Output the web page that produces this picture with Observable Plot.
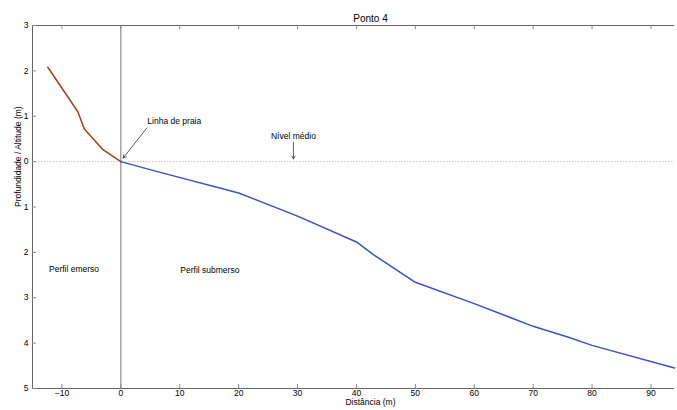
<!DOCTYPE html>
<html>
<head>
<meta charset="utf-8">
<script src="https://cdn.jsdelivr.net/npm/d3@7"></script>
<script src="https://cdn.jsdelivr.net/npm/@observablehq/plot@0.6"></script>
<style>
  html, body { margin: 0; padding: 0; background: #fff; }
  svg { display: block; }
</style>
</head>
<body>
<div id="chart"></div>
<script>
// Perfil emerso (beach above mean level)
const emersoX = [-12.4, -7.3, -6.2, -3.1, 0];
const emersoY = [2.08, 1.1, 0.72, 0.27, 0];
// Perfil submerso
const submersoX = [0, 6.2, 20, 30, 40, 43, 50, 60, 70, 76, 80, 94];
const submersoY = [0, -0.22, -0.69, -1.2, -1.77, -2.06, -2.66, -3.13, -3.63, -3.87, -4.05, -4.55];

const xTicks = [-10, 0, 10, 20, 30, 40, 50, 60, 70, 80, 90];
const yTicks = [3, 2, 1, 0, -1, -2, -3, -4, -5];
const xDomain = [-15, 94];
const yDomain = [-5, 3];

const titleText = "Ponto 4";
const xLabel = "Distância (m)";
const yLabel = "Profundidade / Altitude (m)";

const labels = [
  {x: 4.5, y: 0.88, text: "Linha de praia", anchor: "start"},
  {x: 29.3, y: 0.55, text: "Nível médio", anchor: "middle"},
  {x: -12.2, y: -2.38, text: "Perfil emerso", anchor: "start"},
  {x: 10.1, y: -2.4, text: "Perfil submerso", anchor: "start"}
];
const arrows = [
  {x1: 4.4, y1: 0.74, x2: 0.4, y2: 0.08},
  {x1: 29.3, y1: 0.43, x2: 29.3, y2: 0.06}
];

const emerso = emersoX.map((x, i) => ({x, y: emersoY[i]}));
const submerso = submersoX.map((x, i) => ({x, y: submersoY[i]}));

const W = 677, H = 410;
const mL = 32, mR = 3, mT = 25, mB = 22;
const innerW = W - mL - mR, innerH = H - mT - mB;
const tk = 4;
const font = "Liberation Sans, Arial, sans-serif";

const plot = Plot.plot({
  width: W, height: H,
  marginLeft: mL, marginRight: mR, marginTop: mT, marginBottom: mB,
  style: {fontFamily: font, fontSize: "9px", color: "#000", background: "#fff"},
  x: {domain: xDomain},
  y: {domain: yDomain},
  marks: [
    // zero level dotted line
    Plot.ruleY([0], {stroke: "#b8b8b8", strokeWidth: 0.8, strokeDasharray: "1.5,1.5"}),
    // shoreline vertical
    Plot.ruleX([0], {stroke: "#777", strokeWidth: 1}),
    // frame lines (bottom, top, left)
    Plot.ruleY([yDomain[0]], {stroke: "#666", strokeWidth: 1}),
    Plot.ruleY([yDomain[1]], {stroke: "#666", strokeWidth: 1}),
    Plot.ruleX([xDomain[0]], {stroke: "#666", strokeWidth: 1}),
    // inward ticks bottom & top
    Plot.ruleX(xTicks, {stroke: "#888", strokeWidth: 1, insetTop: innerH - tk}),
    Plot.ruleX(xTicks, {stroke: "#888", strokeWidth: 1, insetBottom: innerH - tk}),
    // inward ticks left
    Plot.ruleY(yTicks, {stroke: "#888", strokeWidth: 1, insetRight: innerW - tk}),
    Plot.axisX({ticks: xTicks, tickSize: 0, tickPadding: 1, fontSize: 8.5, label: null}),
    Plot.axisY({ticks: yTicks, tickSize: 0, tickPadding: 4, fontSize: 8.5, tickFormat: d => String(Math.abs(d)), label: null}),
    // profiles
    Plot.line(emerso, {x: "x", y: "y", stroke: "#a5401c", strokeWidth: 1.5}),
    Plot.line(submerso, {x: "x", y: "y", stroke: "#3a52c4", strokeWidth: 1.5}),
    // annotations
    Plot.arrow(arrows, {x1: "x1", y1: "y1", x2: "x2", y2: "y2", stroke: "#333", strokeWidth: 0.8, headLength: 6}),
    Plot.text(labels.filter(d => d.anchor === "start"), {x: "x", y: "y", text: "text", textAnchor: "start", fontSize: 8.5, fill: "#000"}),
    Plot.text(labels.filter(d => d.anchor === "middle"), {x: "x", y: "y", text: "text", textAnchor: "middle", fontSize: 8.5, fill: "#000"}),
    // title & axis labels
    Plot.text([titleText], {frameAnchor: "top", dy: -11, dx: 17, fontSize: 10, fill: "#000"}),
    Plot.text([xLabel], {frameAnchor: "bottom", dy: 16, dx: 17, fontSize: 8.5, fill: "#000"}),
    Plot.text([yLabel], {frameAnchor: "left", dx: -14, rotate: -90, fontSize: 8.5, fill: "#000"})
  ]
});
document.getElementById("chart").appendChild(plot);
</script>
</body>
</html>
